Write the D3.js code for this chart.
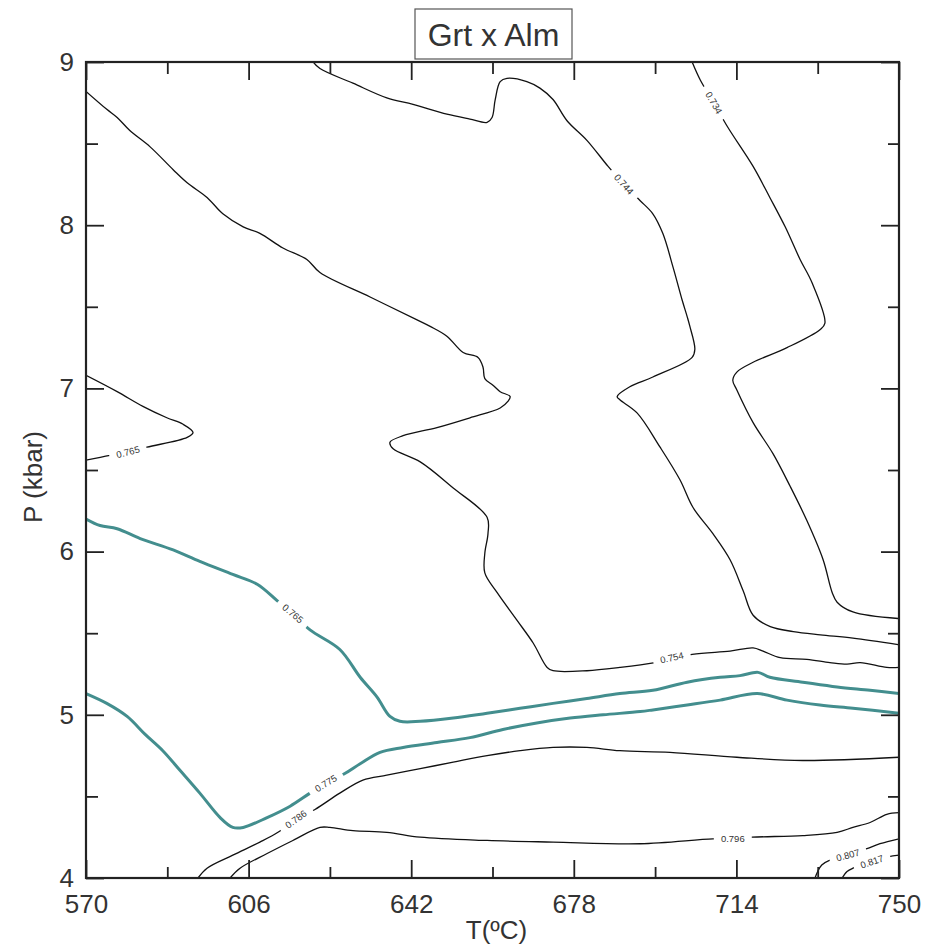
<!DOCTYPE html>
<html>
<head>
<meta charset="utf-8">
<script src="https://cdn.jsdelivr.net/npm/d3@7"></script>
<style>
  body { margin: 0; background: #fff; }
  svg { display: block; font-family: "Liberation Sans", Arial, sans-serif; }
</style>
</head>
<body>
<script>
// Axis ticks
const tempTicks = [570, 606, 642, 678, 714, 750];
const tempMinor = [588, 624, 660, 696, 732];
const pressTicks = [4, 5, 6, 7, 8, 9];
const pressMinor = [4.5, 5.5, 6.5, 7.5, 8.5];

// Contour lines, [T (ºC), P (kbar)]
const c734 = [[704.2,9.0],[706.0,8.89],[709.0,8.75],[712.1,8.60],[717.7,8.36],[721.4,8.17],[724.8,7.99],[728.1,7.79],[730.7,7.65],[733.6,7.40],[732.5,7.36],[725.2,7.25],[717.7,7.16],[714.1,7.10],[713.2,7.05],[714.1,6.99],[717.7,6.79],[722.1,6.60],[725.9,6.40],[729.6,6.19],[733.2,5.95],[735.2,5.75],[736.3,5.69],[739.8,5.63],[749.8,5.59]];
const c744 = [[620.3,9.0],[621.8,8.96],[629.1,8.87],[636.6,8.78],[642.4,8.74],[649.9,8.68],[655.0,8.65],[658.8,8.63],[659.9,8.66],[660.6,8.77],[661.7,8.88],[663.2,8.90],[667.6,8.88],[670.5,8.84],[673.4,8.77],[676.5,8.64],[680.9,8.52],[685.6,8.36],[689.1,8.25],[692.7,8.15],[695.5,8.07],[697.7,7.95],[700.0,7.74],[702.0,7.54],[703.1,7.44],[703.7,7.38],[704.8,7.24],[704.2,7.19],[695.5,7.07],[690.4,7.01],[687.6,6.95],[688.2,6.93],[692.0,6.85],[697.1,6.64],[701.5,6.44],[704.4,6.27],[708.8,6.11],[712.6,5.95],[715.5,5.76],[717.7,5.61],[721.5,5.54],[726.6,5.51],[732.6,5.49],[739.8,5.47],[749.8,5.43]];
const c754 = [[570,8.82],[574.6,8.71],[576.9,8.66],[579.7,8.58],[584.2,8.48],[589.3,8.34],[592.4,8.26],[596.8,8.17],[600.3,8.07],[604.8,7.99],[608.5,7.95],[613.6,7.86],[618.9,7.79],[621.8,7.71],[632.9,7.56],[643.3,7.42],[646.2,7.38],[649.9,7.32],[653.5,7.22],[656.8,7.19],[657.9,7.13],[658.3,7.06],[660.1,7.02],[661.7,6.98],[663.9,6.95],[663.4,6.92],[661.7,6.88],[655.0,6.82],[647.7,6.76],[640.2,6.71],[637.3,6.67],[638.0,6.63],[644.0,6.55],[651.3,6.39],[658.8,6.21],[659.0,6.11],[658.3,5.99],[658.3,5.87],[661.0,5.75],[665.4,5.58],[669.0,5.44],[672.1,5.29],[673.4,5.27],[680.9,5.27],[688.2,5.29],[696.0,5.32],[704.2,5.37],[712.6,5.39],[717.7,5.41],[719.9,5.39],[723.7,5.35],[729.6,5.34],[734.7,5.32],[738.5,5.31],[741.4,5.32],[747.3,5.29],[750,5.29]];
const c765a = [[570,7.08],[576.9,6.98],[582.6,6.89],[587.9,6.82],[591.5,6.78],[593.7,6.73],[592.4,6.70],[583.5,6.64],[579.3,6.61],[575.3,6.59],[570,6.56]];
const c765b = [[570,6.20],[573.1,6.16],[576.9,6.14],[582.0,6.08],[589.3,6.01],[595.2,5.94],[602.5,5.86],[607.9,5.80],[612.3,5.70],[615.8,5.62],[619.6,5.52],[626.2,5.40],[630.7,5.23],[634.4,5.11],[637.3,4.99],[639.5,4.96],[644.0,4.96],[651.3,4.98],[658.8,5.01],[666.1,5.04],[673.4,5.07],[680.9,5.10],[688.2,5.13],[695.5,5.15],[703.1,5.20],[710.4,5.23],[714.8,5.24],[718.8,5.26],[721.4,5.23],[728.7,5.20],[736.3,5.17],[743.6,5.15],[750,5.13]];
const c775 = [[570,5.13],[574.6,5.07],[579.1,4.99],[583.1,4.88],[587.0,4.78],[590.8,4.66],[595.2,4.52],[599.7,4.37],[602.5,4.31],[604.8,4.31],[610.1,4.37],[615.2,4.44],[619.6,4.52],[623.1,4.58],[627.3,4.64],[630.7,4.70],[635.1,4.77],[640.2,4.80],[647.7,4.83],[655.0,4.86],[662.3,4.91],[669.8,4.95],[677.2,4.98],[684.5,5.00],[692.7,5.02],[695.5,5.03],[703.1,5.06],[710.4,5.09],[718.6,5.13],[725.2,5.09],[732.5,5.06],[739.8,5.04],[750,5.01]];
const c786 = [[594.8,4.0],[596.8,4.06],[602.5,4.14],[608.5,4.22],[612.5,4.28],[616.5,4.36],[620.7,4.42],[626.2,4.52],[631.3,4.60],[636.6,4.63],[644.0,4.67],[651.3,4.71],[658.8,4.75],[666.1,4.78],[673.4,4.80],[680.9,4.80],[688.2,4.78],[699.3,4.77],[714.1,4.74],[728.7,4.72],[750,4.74]];
const c796 = [[601.9,4.0],[604.1,4.06],[610.1,4.15],[615.8,4.23],[621.8,4.31],[624.0,4.31],[629.1,4.29],[636.6,4.28],[644.0,4.25],[658.8,4.23],[673.4,4.22],[692.7,4.21],[708.8,4.24],[713.2,4.24],[717.5,4.25],[728.7,4.26],[736.3,4.28],[739.8,4.31],[743.6,4.34],[747.3,4.39],[750,4.40]];
const c807 = [[731.4,4.0],[732.0,4.04],[732.9,4.08],[734.7,4.11],[738.7,4.14],[742.9,4.18],[745.8,4.21],[750,4.24]];
const c817 = [[737.4,4.0],[738.5,4.04],[739.8,4.06],[744.0,4.10],[747.6,4.13],[750,4.14]];

const contourLevels = ["0.734", "0.744", "0.754", "0.765", "0.765", "0.775", "0.786", "0.796", "0.807", "0.817"];
const contourPoints = [c734, c744, c754, c765a, c765b, c775, c786, c796, c807, c817];
// where each level's label sits on its line
const labelAt = [[709.0,8.75],[689.1,8.25],[699.7,5.35],[579.3,6.61],[615.8,5.62],[623.1,4.58],[616.5,4.36],[713.2,4.24],[738.7,4.14],[744.0,4.10]];
const highlighted = [4, 5]; // drawn in teal

const width = 937;
const height = 950;
const marginTop = 62;
const marginRight = 38;
const marginBottom = 72;
const marginLeft = 86;

const x = d3.scaleLinear().domain([570, 750]).range([marginLeft, width - marginRight]);
const y = d3.scaleLinear().domain([4, 9]).range([height - marginBottom, marginTop]);

const svg = d3.select("body").append("svg")
  .attr("width", width)
  .attr("height", height)
  .attr("viewBox", [0, 0, width, height]);

svg.append("clipPath").attr("id", "plot")
  .append("rect")
  .attr("x", marginLeft).attr("y", marginTop)
  .attr("width", width - marginLeft - marginRight)
  .attr("height", height - marginTop - marginBottom);

const line = d3.line()
  .x(d => x(d[0]))
  .y(d => y(d[1]))
  .curve(d3.curveCatmullRom.alpha(0.5));

const plot = svg.append("g").attr("clip-path", "url(#plot)");

plot.selectAll("path.contour")
  .data(contourPoints)
  .join("path")
  .attr("class", "contour")
  .attr("d", line)
  .attr("fill", "none")
  .attr("stroke", (d, i) => highlighted.includes(i) ? "#438e8e" : "#111")
  .attr("stroke-width", (d, i) => highlighted.includes(i) ? 3 : 1.3)
  .attr("stroke-linejoin", "round");

// angle of the line at the label, in screen space
function labelAngle(pts, p) {
  const px = x(p[0]), py = y(p[1]);
  let best = Infinity, ang = 0;
  for (let i = 0; i < pts.length - 1; i++) {
    const ax = x(pts[i][0]), ay = y(pts[i][1]);
    const bx = x(pts[i + 1][0]), by = y(pts[i + 1][1]);
    const dx = bx - ax, dy = by - ay;
    const len2 = dx * dx + dy * dy || 1;
    let t = ((px - ax) * dx + (py - ay) * dy) / len2;
    t = Math.max(0, Math.min(1, t));
    const qx = ax + t * dx - px, qy = ay + t * dy - py;
    const dist = qx * qx + qy * qy;
    if (dist < best) { best = dist; ang = Math.atan2(dy, dx) * 180 / Math.PI; }
  }
  if (ang > 90) ang -= 180;
  if (ang < -90) ang += 180;
  return ang;
}

const labels = plot.selectAll("g.clabel")
  .data(labelAt)
  .join("g")
  .attr("class", "clabel")
  .attr("transform", (d, i) => `translate(${x(d[0])},${y(d[1])}) rotate(${labelAngle(contourPoints[i], d)})`);

labels.append("rect")
  .attr("x", -19).attr("y", -5)
  .attr("width", 38).attr("height", 10)
  .attr("fill", "#fff");

labels.append("text")
  .attr("text-anchor", "middle")
  .attr("dy", "0.35em")
  .attr("font-size", 9.5)
  .attr("fill", "#333")
  .text((d, i) => contourLevels[i]);

// axes, ticks pointing inward on all four sides
function styleAxis(g) {
  g.select(".domain").remove();
  g.selectAll(".tick line").attr("stroke", "#222").attr("stroke-width", 1.8);
  g.selectAll(".tick text").attr("fill", "#333").attr("font-size", 26)
    .attr("font-family", "'Liberation Sans', Arial, sans-serif");
}

const bottom = height - marginBottom;
const right = width - marginRight;

svg.append("g").attr("transform", `translate(0,${bottom})`)
  .call(d3.axisBottom(x).tickValues(tempTicks).tickSize(-18).tickPadding(17).tickFormat(d3.format("d")))
  .call(styleAxis);
svg.append("g").attr("transform", `translate(0,${bottom})`)
  .call(d3.axisBottom(x).tickValues(tempMinor).tickSize(-11).tickFormat(""))
  .call(styleAxis);
svg.append("g").attr("transform", `translate(0,${marginTop})`)
  .call(d3.axisTop(x).tickValues(tempTicks).tickSize(-18).tickFormat(""))
  .call(styleAxis);
svg.append("g").attr("transform", `translate(0,${marginTop})`)
  .call(d3.axisTop(x).tickValues(tempMinor).tickSize(-12).tickFormat(""))
  .call(styleAxis);

svg.append("g").attr("transform", `translate(${marginLeft},0)`)
  .call(d3.axisLeft(y).tickValues(pressTicks).tickSize(-18).tickPadding(12).tickFormat(d3.format("d")))
  .call(styleAxis);
svg.append("g").attr("transform", `translate(${marginLeft},0)`)
  .call(d3.axisLeft(y).tickValues(pressMinor).tickSize(-12).tickFormat(""))
  .call(styleAxis);
svg.append("g").attr("transform", `translate(${right},0)`)
  .call(d3.axisRight(y).tickValues(pressTicks).tickSize(-18).tickFormat(""))
  .call(styleAxis);
svg.append("g").attr("transform", `translate(${right},0)`)
  .call(d3.axisRight(y).tickValues(pressMinor).tickSize(-11).tickFormat(""))
  .call(styleAxis);

// frame
svg.append("rect")
  .attr("x", marginLeft).attr("y", marginTop)
  .attr("width", right - marginLeft)
  .attr("height", bottom - marginTop)
  .attr("fill", "none")
  .attr("stroke", "#222")
  .attr("stroke-width", 2.2);

// axis titles
svg.append("text")
  .attr("x", (marginLeft + right) / 2 + 4)
  .attr("y", 939)
  .attr("text-anchor", "middle")
  .attr("font-size", 26)
  .attr("fill", "#333")
  .text("T(ºC)");

svg.append("text")
  .attr("transform", `translate(42,477) rotate(-90)`)
  .attr("text-anchor", "middle")
  .attr("font-size", 26)
  .attr("fill", "#333")
  .text("P (kbar)");

// boxed title
const title = svg.append("g");
title.append("rect")
  .attr("x", 415).attr("y", 9)
  .attr("width", 157).attr("height", 50)
  .attr("fill", "#fff")
  .attr("stroke", "#555")
  .attr("stroke-width", 1.2);
title.append("text")
  .attr("x", 493.5)
  .attr("y", 46)
  .attr("text-anchor", "middle")
  .attr("font-size", 32)
  .attr("fill", "#333")
  .text("Grt x Alm");
</script>
</body>
</html>
